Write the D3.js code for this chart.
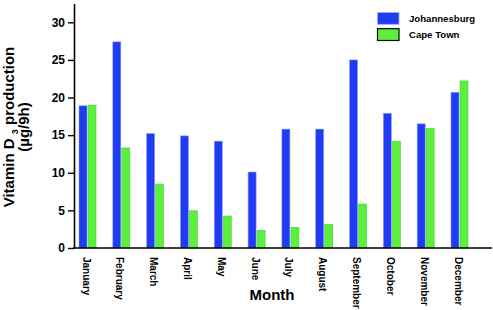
<!DOCTYPE html>
<html>
<head>
<meta charset="utf-8">
<script src="https://cdn.jsdelivr.net/npm/d3@7"></script>
<style>
  html, body { margin: 0; padding: 0; background: #fff; }
  svg { display: block; font-family: "Liberation Sans", Arial, sans-serif; }
</style>
</head>
<body>
<svg id="chart" width="493" height="310"></svg>
<script>
const months = ["January","February","March","April","May","June","July","August","September","October","November","December"];
const johannesburg = [18.9, 27.4, 15.2, 14.9, 14.2, 10.1, 15.8, 15.8, 25.0, 17.9, 16.5, 20.7];
const capeTown = [19.0, 13.3, 8.5, 4.95, 4.25, 2.35, 2.75, 3.15, 5.85, 14.2, 15.9, 22.2];
const yTicks = [0, 5, 10, 15, 20, 25, 30];
const seriesNames = ["Johannesburg", "Cape Town"];
const colors = ["#1f3cf2", "#5cf03e"];
const strokes = ["#8a96ff", "#4ccf33"];

const svg = d3.select("#chart");
const x = d3.scalePoint().domain(months).range([87.5, 459.5]);
const y = d3.scaleLinear().domain([0, 32.5]).range([248, 3.5]);
const barW = 8;

// bars
const series = [johannesburg, capeTown];
series.forEach((vals, si) => {
  svg.append("g").selectAll("rect").data(months).join("rect")
    .attr("x", (m) => x(m) + (si === 0 ? -barW - 0.5 : 0.5))
    .attr("y", (m, i) => y(vals[i]))
    .attr("width", barW)
    .attr("height", (m, i) => y(0) - y(vals[i]))
    .attr("fill", colors[si])
    .attr("stroke", strokes[si])
    .attr("stroke-width", 0.6);
});

// y axis
const yAxis = d3.axisLeft(y).tickValues(yTicks).tickSize(6).tickSizeOuter(0).tickPadding(3);
const gy = svg.append("g").attr("transform", "translate(74,0)").call(yAxis);
gy.select(".domain").attr("stroke", "#000").attr("stroke-width", 1.6);
gy.selectAll(".tick line").attr("stroke", "#000").attr("stroke-width", 1.4);
gy.selectAll(".tick text").attr("font-size", 12).attr("font-weight", "bold").attr("fill", "#000")
  .attr("font-family", "Liberation Sans, Arial, sans-serif");

// x axis line
svg.append("line").attr("x1", 73).attr("x2", 492).attr("y1", y(0)).attr("y2", y(0))
  .attr("stroke", "#000").attr("stroke-width", 1.6);

// month labels
svg.append("g").selectAll("text").data(months).join("text")
  .attr("transform", (m) => `translate(${x(m) - 1.5},257) rotate(90)`)
  .attr("dy", "0.35em")
  .attr("text-anchor", "start")
  .attr("font-size", 10)
  .attr("font-weight", "bold")
  .text((m) => m);

// x title
svg.append("text").attr("x", 272).attr("y", 300).attr("text-anchor", "middle")
  .attr("font-size", 15).attr("font-weight", "bold").text("Month");

// y title
const yt = svg.append("text").attr("transform", "translate(14,127) rotate(-90)")
  .attr("text-anchor", "middle").attr("font-size", 15).attr("font-weight", "bold");
yt.append("tspan").text("Vitamin D ");
yt.append("tspan").attr("font-size", 9).attr("dy", 4).text("3");
yt.append("tspan").attr("dy", -4).text(" production");
svg.append("text").attr("transform", "translate(29,127) rotate(-90)")
  .attr("text-anchor", "middle").attr("font-size", 15).attr("font-weight", "bold").text("(µg/9h)");

// legend
const leg = svg.append("g");
seriesNames.forEach((name, i) => {
  const ly = 12.5 + i * 16.2;
  leg.append("rect").attr("x", 377.5).attr("y", ly).attr("width", 21.5).attr("height", 11.8)
    .attr("fill", colors[i]).attr("stroke", i === 0 ? "#a0a8ff" : "#000").attr("stroke-width", i === 0 ? 0.8 : 1.2);
  leg.append("text").attr("x", 409).attr("y", ly + 6).attr("dy", "0.35em")
    .attr("font-size", 9.6).attr("font-weight", "bold").text(name);
});
</script>
</body>
</html>
